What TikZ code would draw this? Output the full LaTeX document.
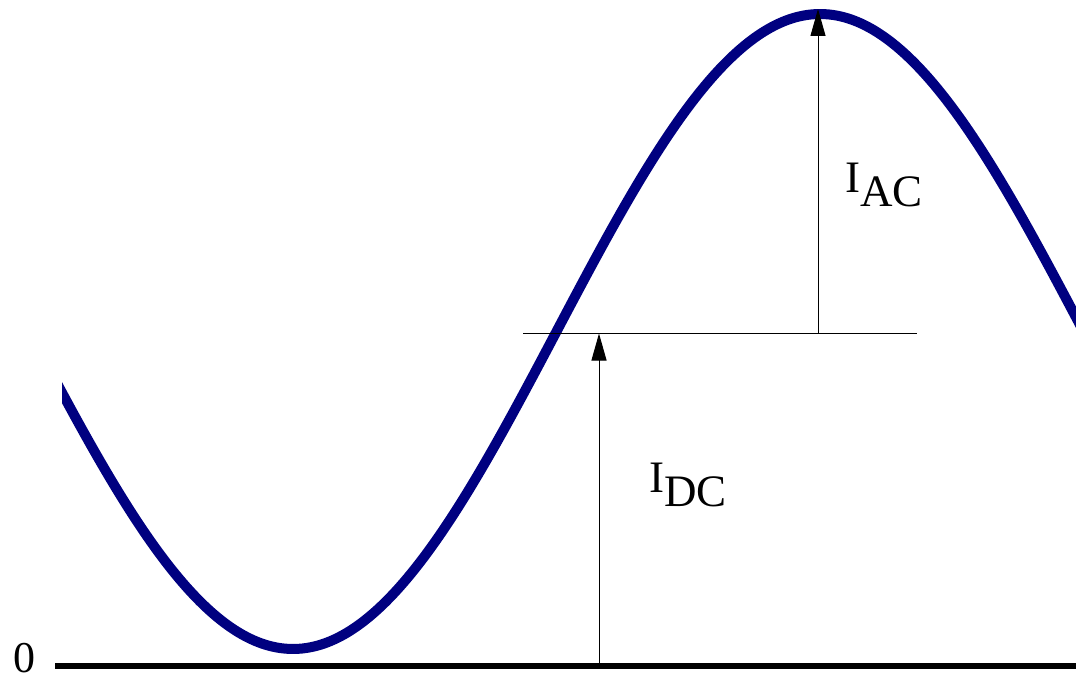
\documentclass[tikz,border=0pt]{standalone}
\usepackage{fontspec}
\setmainfont{Liberation Serif}
\usetikzlibrary{arrows.meta}
\definecolor{wavenavy}{RGB}{0,0,128}
\begin{document}
\begin{tikzpicture}[x=1pt,y=-1pt,
  lbl/.style={inner sep=0pt, anchor=base west, font=\fontsize{45}{54}\selectfont},
  thinline/.style={line width=1pt, black},
  meas/.style={line width=1pt, black, -{Triangle[length=27pt,width=15pt]}}]
\useasboundingbox (0,0) rectangle (1076,679);
% sine wave
\begin{scope}
\clip (62,0) rectangle (1076,679);
\draw[wavenavy, line width=10pt, domain=50:1090, samples=240, smooth]
  plot (\x, {331.5+317.5*cos(0.341556*(\x-293))});
\end{scope}
% baseline and zero label
\coordinate (b0) at (55,666);
\coordinate (b1) at (1076,666);
\draw[line width=6pt, black] (b0) -- (b1);
\node[lbl, font=\fontsize{44}{52}\selectfont] (zero) at (13,672) {0};
% DC level line
\coordinate (h0) at (523,333);
\coordinate (h1) at (917,333);
\draw[thinline] (h0) -- (h1);
% arrows
\coordinate (dcbot) at (599,663);
\coordinate (dctop) at (599,333.5);
\draw[meas] (dcbot) -- (dctop);
\coordinate (acbot) at (818,333);
\coordinate (actop) at (818,9);
\draw[meas] (acbot) -- (actop);
% labels
\node[lbl] (idc) at (649,492) {I\raisebox{-14pt}{DC}};
\node[lbl] (iac) at (845,193) {I\raisebox{-14pt}{AC}};
\end{tikzpicture}
\end{document}
